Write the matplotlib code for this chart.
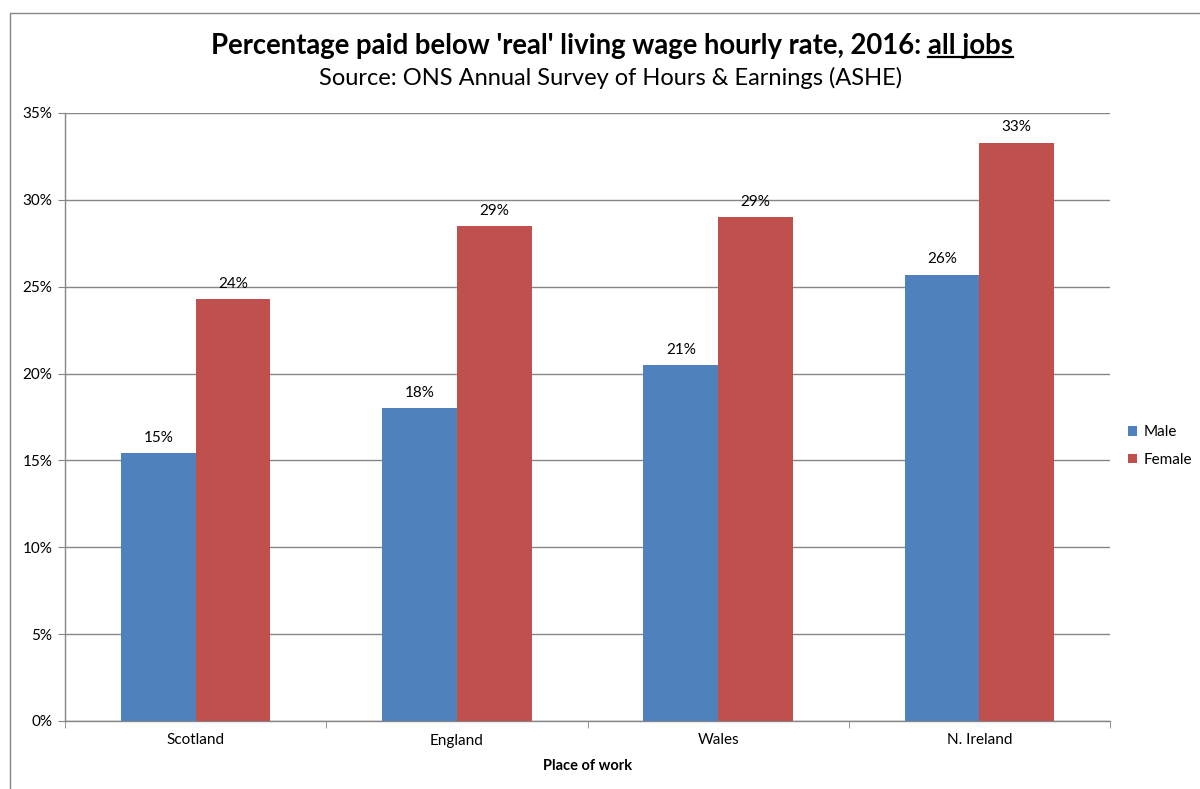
import matplotlib
matplotlib.use("Agg")
import matplotlib.pyplot as plt
import numpy as np
from matplotlib.patches import Rectangle
from matplotlib.lines import Line2D

categories = ["Scotland", "England", "Wales", "N. Ireland"]
male = [15.4, 18.0, 20.5, 25.7]
female = [24.3, 28.5, 29.0, 33.3]
male_labels = ["15%", "18%", "21%", "26%"]
female_labels = ["24%", "29%", "29%", "33%"]
yticks = [0, 5, 10, 15, 20, 25, 30, 35]
series_names = ["Male", "Female"]

plt.rcParams['font.family'] = ['Lato', 'DejaVu Sans']

fig = plt.figure(figsize=(12, 7.89), dpi=100)
ax = fig.add_axes([65/1200, 1-721/789, (1110-65)/1200, (721-113)/789])

blue = "#4F81BD"
red = "#C0504D"
grid = "#868686"

x = np.arange(len(categories))
w = 0.2857
b1 = ax.bar(x - w/2, male, width=w, color=blue, label=series_names[0], zorder=3)
b2 = ax.bar(x + w/2, female, width=w, color=red, label=series_names[1], zorder=3)

for rect, lab in zip(b1, male_labels):
    ax.annotate(lab, (rect.get_x() + rect.get_width()/2, rect.get_height()),
                xytext=(0, 6), textcoords="offset points", ha="center", va="bottom", fontsize=11)
for rect, lab in zip(b2, female_labels):
    ax.annotate(lab, (rect.get_x() + rect.get_width()/2, rect.get_height()),
                xytext=(0, 6), textcoords="offset points", ha="center", va="bottom", fontsize=11)

ax.set_xlim(-0.5, len(categories) - 0.5)
ax.set_ylim(0, 35)
ax.set_yticks(yticks)
ax.set_yticklabels([f"{t}%" for t in yticks], fontsize=11)
ax.set_xticks(x)
ax.set_xticklabels(categories, fontsize=11)
ax.tick_params(axis='x', length=0, pad=9)
ax.set_xticks(np.arange(-0.5, len(categories)), minor=True)
ax.tick_params(axis='x', which='minor', length=5, color=grid, direction='out')
ax.tick_params(axis='y', length=5, color=grid, direction='out', pad=4)
ax.yaxis.grid(True, color=grid, linewidth=1, zorder=0)
ax.set_axisbelow(True)
for s in ["top", "right"]:
    ax.spines[s].set_visible(False)
for s in ["left", "bottom"]:
    ax.spines[s].set_color(grid)
    ax.spines[s].set_linewidth(1)
ax.set_xlabel("Place of work", fontsize=10.5, fontweight="bold", labelpad=8)

ax.legend(loc="center left", bbox_to_anchor=(1128/1200, 1 - 446/789), bbox_transform=fig.transFigure,
          frameon=False, fontsize=11, handlelength=0.6, handleheight=0.6, handletextpad=0.4,
          labelspacing=0.9, borderpad=0, borderaxespad=0)

# Title with underlined part
prefix = "Percentage paid below 'real' living wage hourly rate, 2016: "
under = "all jobs"
tfont = dict(fontsize=19.8, fontweight="bold")
fig.canvas.draw()
r = fig.canvas.get_renderer()
tp = fig.text(0, 0, prefix, **tfont)
tu = fig.text(0, 0, under, **tfont)
wp = tp.get_window_extent(r).width
wu = tu.get_window_extent(r).width
tot = wp + wu
cx = 612
ty = 1 - 46/789
x0 = cx - tot/2
tp.set_position((x0/1200, ty)); tp.set_va("center")
tu.set_position(((x0 + wp)/1200, ty)); tu.set_va("center")
fig.canvas.draw()
bb = tu.get_window_extent(r)
uy = bb.y0 + 2
fig.add_artist(Line2D([bb.x0/1200, bb.x1/1200], [uy/789, uy/789], color="black", linewidth=1.6))

fig.text(611/1200, 1 - 78/789, "Source: ONS Annual Survey of Hours & Earnings (ASHE)", fontsize=17,
         ha="center", va="center")

fig.add_artist(Rectangle((10/1200, -0.1), 1.2, 1 - 13/789 + 0.1, transform=fig.transFigure,
                         fill=False, edgecolor="#868686", linewidth=1))

fig.savefig("out.png", dpi=100)
